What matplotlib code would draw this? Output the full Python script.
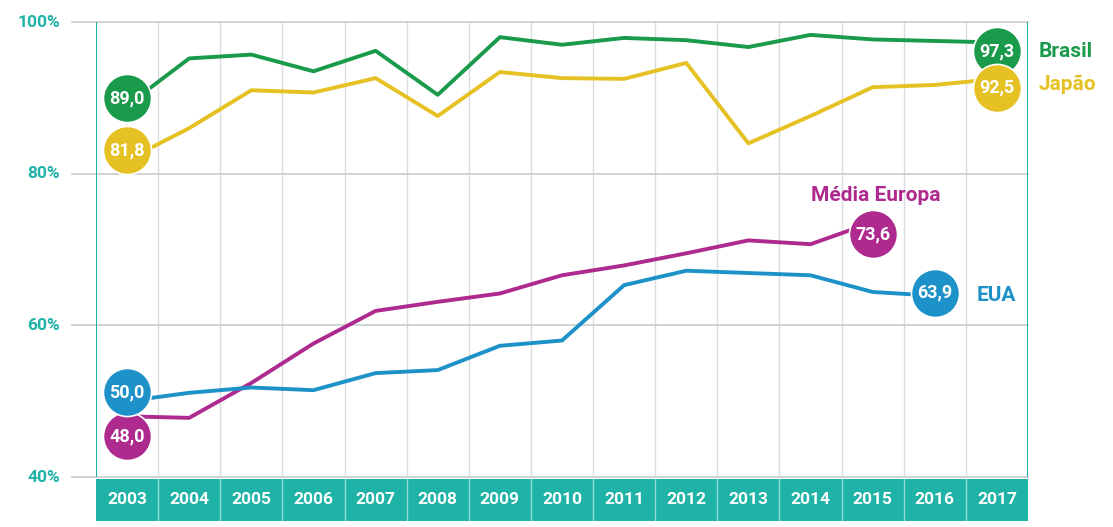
import matplotlib.pyplot as plt
import matplotlib.transforms as mtransforms
import numpy as np

plt.rcParams['font.family'] = ['Roboto', 'DejaVu Sans']

years = [str(y) for y in range(2003, 2018)]

brasil = [89.0, 95.2, 95.7, 93.5, 96.2, 90.4, 98.0, 97.0, 97.9, 97.6, 96.7, 98.3, 97.7, 97.5, 97.3]
japao = [81.8, 86.0, 91.0, 90.7, 92.6, 87.6, 93.4, 92.6, 92.5, 94.6, 84.0, 87.6, 91.4, 91.7, 92.5]
europa = [48.0, 47.8, 52.4, 57.6, 61.9, 63.1, 64.2, 66.6, 67.9, 69.5, 71.2, 70.7, 73.6]
eua = [50.0, 51.1, 51.8, 51.45, 53.7, 54.1, 57.3, 58.0, 65.3, 67.2, 66.9, 66.6, 64.4, 63.9]

yticks = [40, 60, 80, 100]
ytick_labels = ['40%', '60%', '80%', '100%']

teal = '#1fb2a7'
green = '#1a9a4b'
yellow = '#e6c123'
magenta = '#ae2a8e'
blue = '#1d92c9'
grid = '#d9dcdc'

fig = plt.figure(figsize=(11.13, 5.27), dpi=100)
ax = fig.add_axes([96 / 1113, 1 - 477 / 527, 932 / 1113, 455 / 527])
band = fig.add_axes([96 / 1113, 1 - 521 / 527, 932 / 1113, 42 / 527])

n = len(years)
ax.set_xlim(-0.5, n - 0.5)
ax.set_ylim(40, 100)
for s in ax.spines.values():
    s.set_visible(False)
ax.set_xticks([])
ax.set_yticks([])

# vertical column separators
for i in range(1, n):
    ax.axvline(i - 0.5, color=grid, lw=1.0, zorder=1)

# horizontal gridlines reaching out to the tick labels
ext = 24 / 62.13
for v, lab in zip(yticks, ytick_labels):
    ax.plot([-0.5 - ext, n - 0.5], [v, v], color='#c8cccc', lw=1.2,
            clip_on=False, zorder=1)
    ax.text(-0.5 - ext - 12 / 62.13, v, lab, color=teal, fontsize=12.5,
            fontweight='bold', ha='right', va='center')

ax.axvline(-0.5, color=teal, lw=1.5, zorder=2)
ax.axvline(n - 0.5, color=teal, lw=1.5, zorder=2)

# (values, colour, vertical nudge of the start bubble, of the end bubble) in px
series = [
    (brasil, green, 7, -9),
    (japao, yellow, 10, -9),
    (europa, magenta, -20, -12),
    (eua, blue, 9, 3),
]


def bubble(xi, val, col, dy):
    tr = mtransforms.offset_copy(ax.transData, fig=fig, x=0, y=dy, units='dots')
    ax.scatter(xi, val, s=1200, color=col, zorder=4, clip_on=False,
               edgecolors='white', linewidths=1.2, transform=tr)
    ax.text(xi, val, f'{val:.1f}'.replace('.', ','), color='white',
            fontsize=13, fontweight='bold', ha='center', va='center',
            zorder=5, transform=tr)


for vals, col, dy0, dy1 in series:
    x = np.arange(len(vals))
    ax.plot(x, vals, color=col, lw=2.8, zorder=3)
    bubble(0, vals[0], col, dy0)
    bubble(len(vals) - 1, vals[-1], col, dy1)

# series names
ax.annotate('Brasil', (n - 1, brasil[-1]), xytext=(30, -6.5),
            textcoords='offset points', color=green, fontsize=15,
            fontweight='bold', ha='left', va='center', annotation_clip=False)
ax.annotate('Japão', (n - 1, japao[-1]), xytext=(30, -4),
            textcoords='offset points', color=yellow, fontsize=15,
            fontweight='bold', ha='left', va='center', annotation_clip=False)
ax.annotate('Média Europa', (len(europa) - 1, europa[-1]), xytext=(2, 19),
            textcoords='offset points', color=magenta, fontsize=15,
            fontweight='bold', ha='center', va='center', annotation_clip=False)
ax.annotate('EUA', (len(eua) - 1, eua[-1]), xytext=(30, 0.5),
            textcoords='offset points', color=blue, fontsize=15,
            fontweight='bold', ha='left', va='center', annotation_clip=False)

# year band
band.set_xlim(-0.5, n - 0.5)
band.set_ylim(0, 1)
band.set_facecolor(teal)
for s in band.spines.values():
    s.set_visible(False)
band.set_xticks([])
band.set_yticks([])
for i in range(1, n):
    band.axvline(i - 0.5, color='#8fdcd5', lw=1.0)
for i, y in enumerate(years):
    band.text(i, 0.5, y, color='white', fontsize=12.5, fontweight='bold',
              ha='center', va='center')

fig.savefig('out.png', dpi=100)
